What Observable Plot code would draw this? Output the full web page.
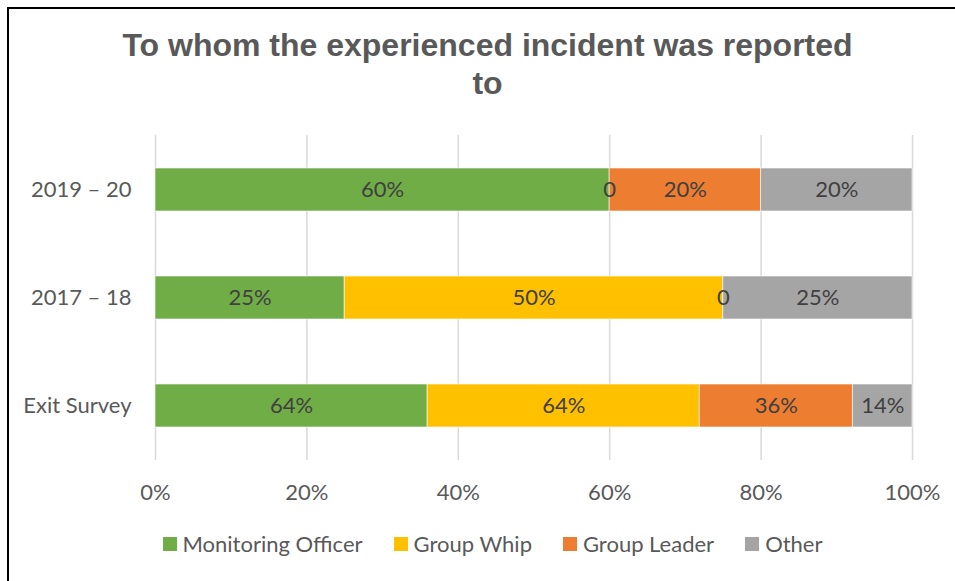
<!DOCTYPE html>
<html>
<head>
<meta charset="utf-8">
<script src="https://cdn.jsdelivr.net/npm/d3@7"></script>
<script src="https://cdn.jsdelivr.net/npm/@observablehq/plot@0.6"></script>
<style>
  html, body { margin: 0; padding: 0; width: 955px; height: 581px; overflow: hidden; background: #fff; }
  #frame { position: absolute; left: 7px; top: 7px; width: 1000px; height: 1000px; border: 2px solid #000; box-sizing: border-box; }
  #title { position: absolute; left: 0; top: 27px; width: 975px; text-align: center; font-family: "Liberation Sans", Arial, sans-serif; font-weight: bold; font-size: 32px; line-height: 37.5px; color: #595959; }
  #chart { position: absolute; left: 0; top: 120px; }
  #legend { position: absolute; left: 0; top: 530px; width: 985px; display: flex; justify-content: center; gap: 31px; font-family: Lato, sans-serif; font-size: 22px; color: #595959; }
  .item { display: flex; align-items: center; gap: 6px; }
  .sw { width: 14px; height: 14px; display: inline-block; }
</style>
</head>
<body>
<div id="frame"></div>
<div id="title">To whom the experienced incident was reported<br>to</div>
<div id="chart"></div>
<div id="legend"></div>
<script>
const categories = ["2019 – 20", "2017 – 18", "Exit Survey"];
const seriesNames = ["Monitoring Officer", "Group Whip", "Group Leader", "Other"];
const colors = ["#70AD47", "#FFC000", "#ED7D31", "#A5A5A5"];
const monitoringOfficer = [60, 25, 64];
const groupWhip = [0, 50, 64];
const groupLeader = [20, 0, 36];
const other = [20, 25, 14];
const xTicks = [0, 0.2, 0.4, 0.6, 0.8, 1];

const seriesValues = [monitoringOfficer, groupWhip, groupLeader, other];
const data = [];
categories.forEach((c, i) => {
  seriesNames.forEach((s, j) => {
    data.push({category: c, series: s, value: seriesValues[j][i]});
  });
});

const labelOf = d => d.value === 0 ? "0" : d.value + "%";

const chart = Plot.plot({
  width: 955,
  height: 390,
  marginLeft: 155,
  marginRight: 43,
  marginTop: 15,
  marginBottom: 50,
  style: {fontFamily: "Lato, sans-serif", fontSize: "22px", color: "#595959", background: "transparent", overflow: "visible"},
  x: {domain: [0, 1], ticks: xTicks, tickFormat: d => Math.round(d * 100) + "%", label: null, tickSize: 0, tickPadding: 24},
  y: {domain: categories, paddingInner: 0.605, paddingOuter: 0.297, label: null, tickSize: 0, tickPadding: 24},
  color: {domain: seriesNames, range: colors},
  marks: [
    Plot.ruleX(xTicks, {stroke: "#d9d9d9", strokeWidth: 1.5}),
    Plot.barX(data, Plot.stackX({offset: "normalize", x: "value", y: "category", fill: "series", stroke: "white", strokeWidth: 1, strokeOpacity: 0.6})),
    Plot.text(data, Plot.stackX({offset: "normalize", x: "value", y: "category", text: labelOf, fill: "#404040", fontSize: 22})),
    Plot.axisX({ticks: xTicks, tickFormat: d => Math.round(d * 100) + "%", tickSize: 0, tickPadding: 24, label: null, fill: "#595959"}),
    Plot.axisY({tickSize: 0, tickPadding: 24, label: null, fill: "#595959"})
  ]
});
document.getElementById("chart").appendChild(chart);

const legend = document.getElementById("legend");
seriesNames.forEach((s, i) => {
  const item = document.createElement("div");
  item.className = "item";
  const sw = document.createElement("span");
  sw.className = "sw";
  sw.style.background = colors[i];
  const t = document.createElement("span");
  t.textContent = s;
  item.appendChild(sw);
  item.appendChild(t);
  legend.appendChild(item);
});
</script>
</body>
</html>
